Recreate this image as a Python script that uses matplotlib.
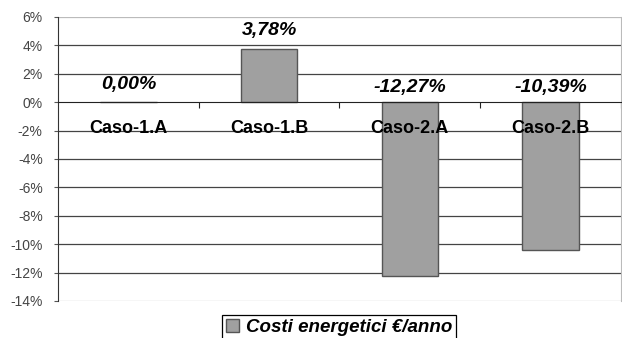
import numpy as np
import matplotlib.pyplot as plt
from matplotlib.patches import Patch

# dati
categorie = ["Caso-1.A", "Caso-1.B", "Caso-2.A", "Caso-2.B"]
costi = [0.00, 3.78, -12.27, -10.39]
etichette = ["0,00%", "3,78%", "-12,27%", "-10,39%"]
yticks = [6, 4, 2, 0, -2, -4, -6, -8, -10, -12, -14]
serie = "Costi energetici €/anno"

plt.rcParams['font.family'] = ['Liberation Sans', 'DejaVu Sans']

fig = plt.figure(figsize=(6.22, 3.38), dpi=100)
ax = fig.add_axes([58 / 622, 37 / 338, 563 / 622, 284 / 338])

x = np.arange(len(categorie))
ax.bar(x, costi, width=0.40, color='#a0a0a0', edgecolor='#555555', linewidth=1, zorder=3)

ax.set_xlim(-0.5, len(categorie) - 0.5)
ax.set_ylim(-14, 6)
ax.set_yticks(yticks)
ax.set_yticklabels([f"{t}%" for t in yticks], fontsize=10, color='#444444')
ax.tick_params(axis='y', length=3, width=0.8, color='#555555', pad=8)

# griglia
for t in yticks:
    if t == 0:
        continue
    c = '#bbbbbb' if t in (6, -14) else '#444444'
    ax.axhline(t, color=c, lw=0.9, zorder=1)

# asse x sullo zero
ax.spines['bottom'].set_position(('data', 0))
ax.spines['bottom'].set_color('#222222')
ax.spines['bottom'].set_zorder(4)
ax.set_xticks(np.arange(len(categorie)) + 0.5)
ax.set_xticklabels([])
ax.tick_params(axis='x', length=4, width=0.8, color='#222222', direction='out')
ax.spines['left'].set_color('#333333')
ax.spines['top'].set_visible(False)
ax.spines['right'].set_color('#bbbbbb')

for xi, cat in zip(x, categorie):
    ax.text(xi, -1.85, cat, ha='center', va='center', fontsize=13, fontweight='bold', zorder=5)

for xi, v, lab in zip(x, costi, etichette):
    base = max(v, 0)
    off = 1.25 if v >= 0 else 1.05
    ax.text(xi, base + off, lab, ha='center', va='center', fontsize=14,
            fontweight='bold', fontstyle='italic', zorder=5)

leg = fig.legend(handles=[Patch(facecolor='#a0a0a0', edgecolor='#555555', label=serie)],
                 loc='upper center', bbox_to_anchor=(339 / 622, 23 / 338),
                 prop={'weight': 'bold', 'style': 'italic', 'size': 13.5},
                 fancybox=False, edgecolor='black', framealpha=1,
                 handlelength=0.7, handleheight=0.7, handletextpad=0.4,
                 borderpad=0.2, borderaxespad=0)
leg.get_frame().set_linewidth(0.9)

fig.savefig('out.png', dpi=100)
